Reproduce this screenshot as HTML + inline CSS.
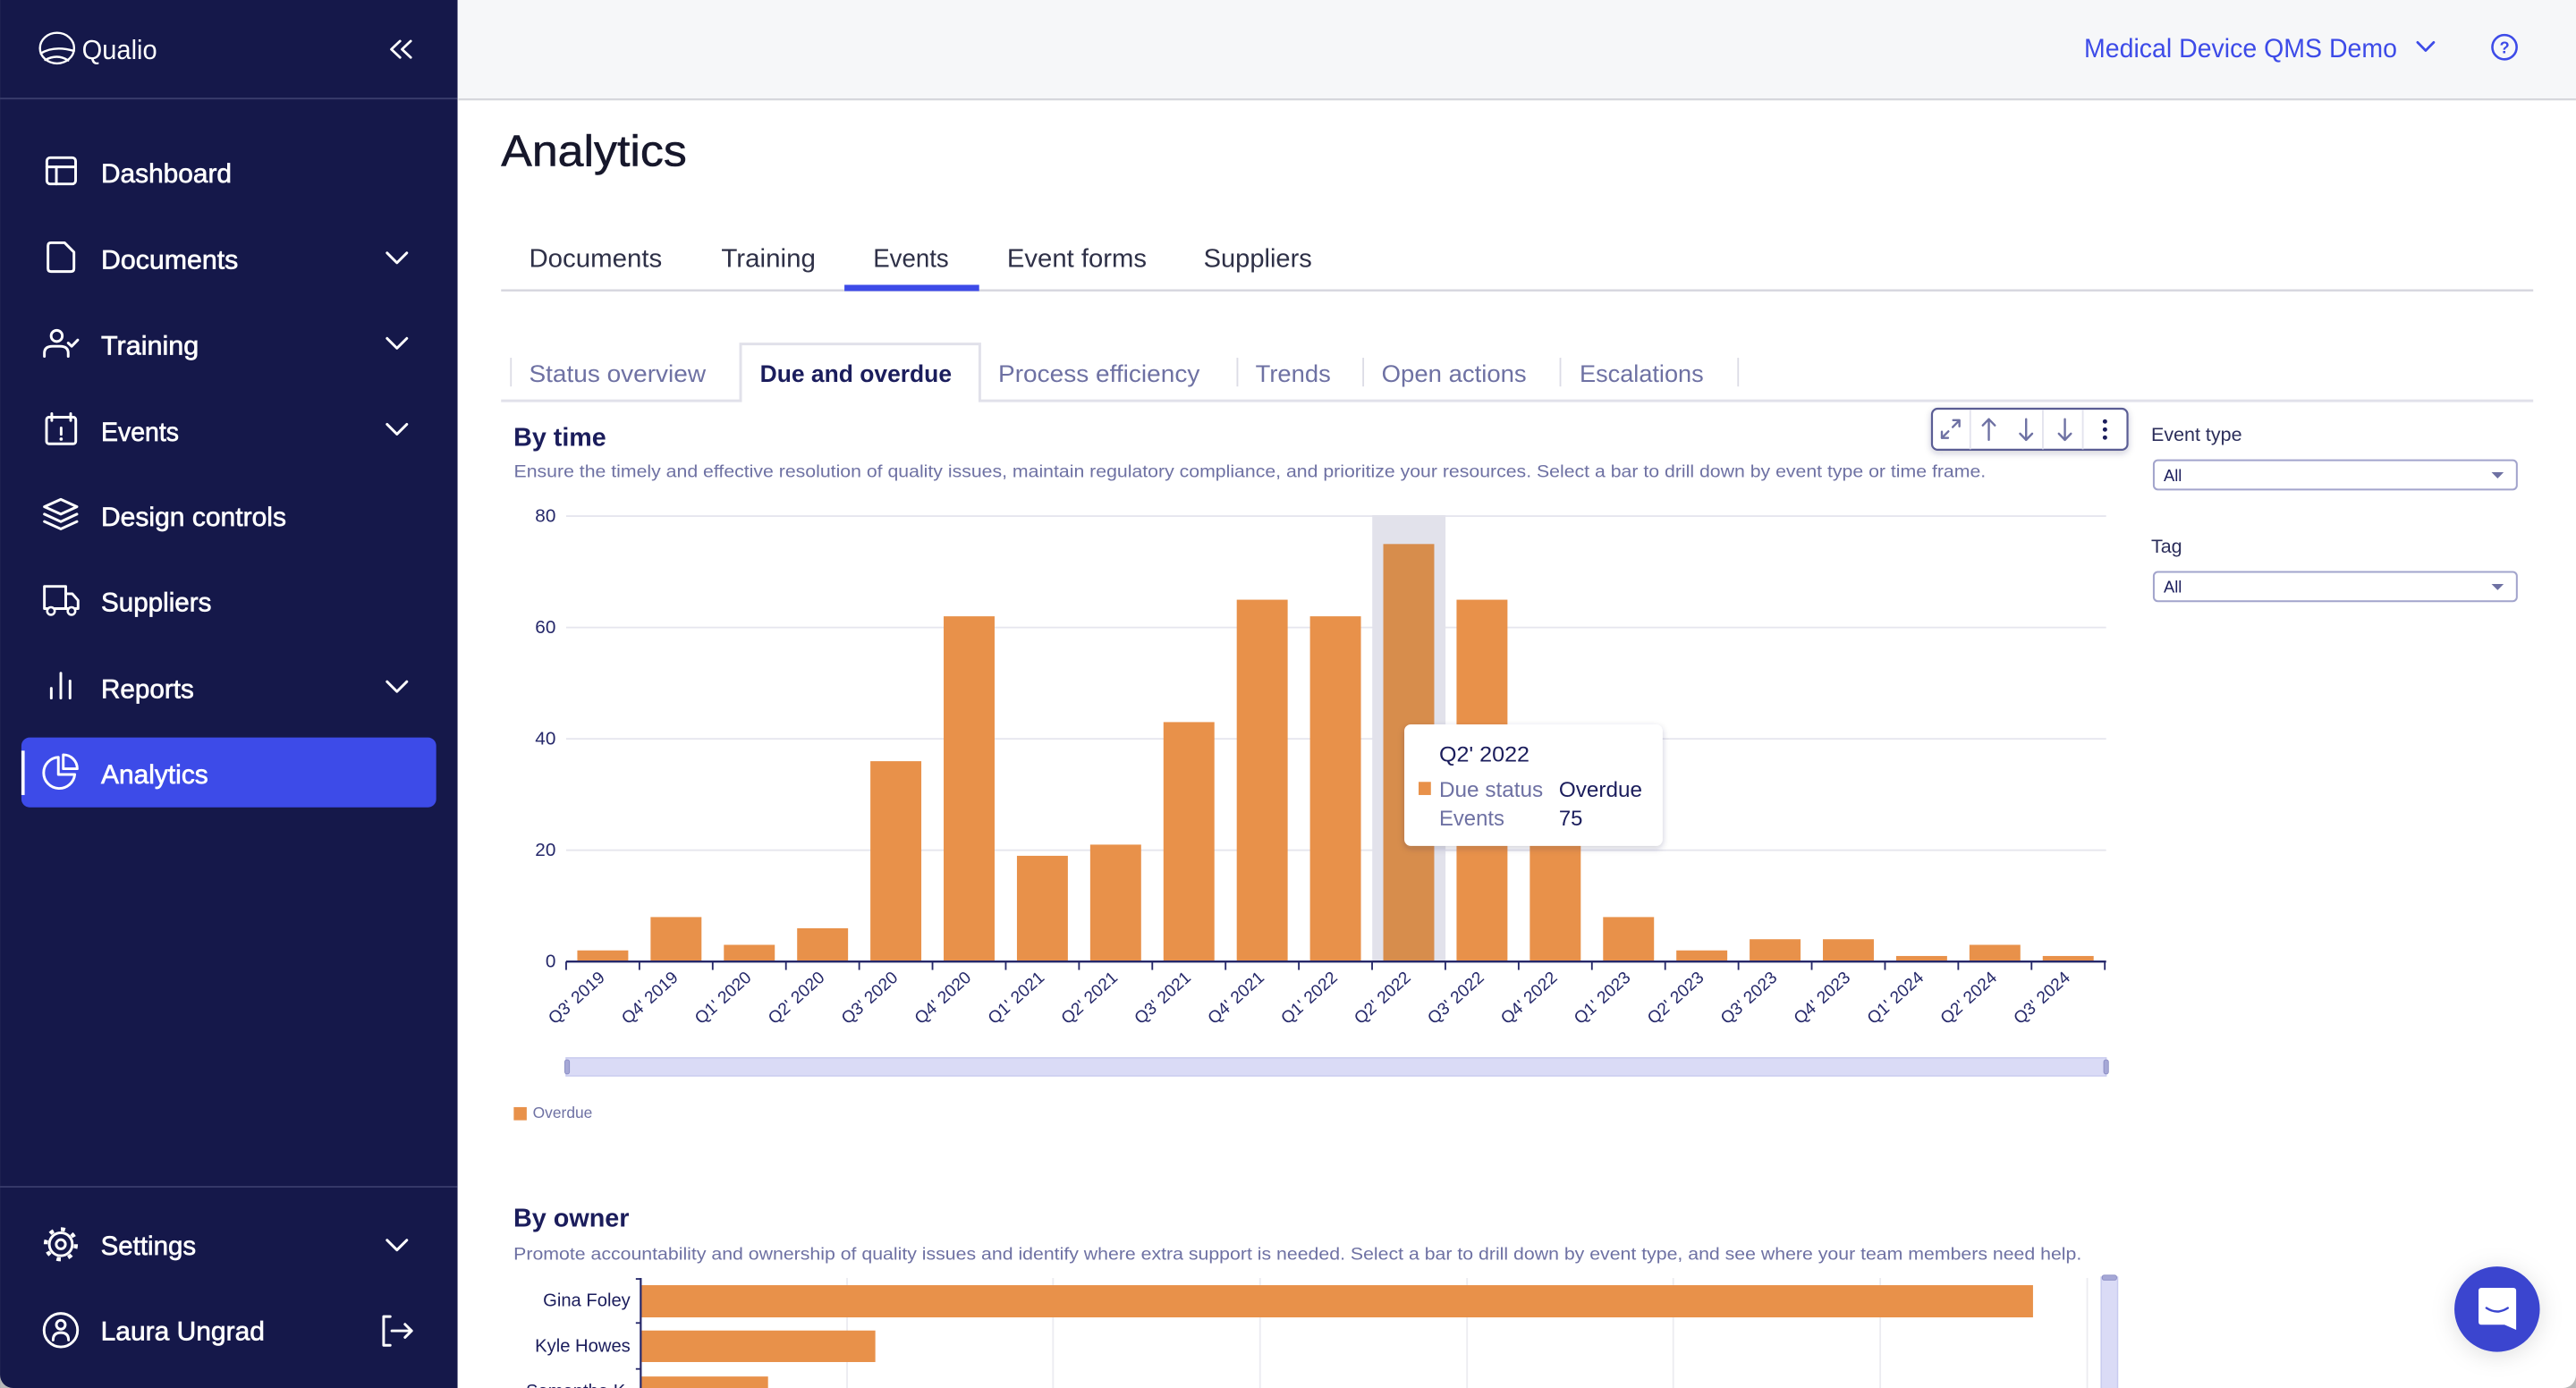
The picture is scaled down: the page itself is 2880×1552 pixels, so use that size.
<!DOCTYPE html>
<html><head><meta charset="utf-8"><style>html,body{margin:0;padding:0;width:2880px;height:1552px;overflow:hidden;background:#fff}svg{display:block}</style></head>
<body>
<svg width="2880" height="1552" viewBox="0 0 1568 845" xmlns="http://www.w3.org/2000/svg" font-family="'Liberation Sans', Arial, sans-serif">
<defs>
<filter id="sh" x="-20%" y="-30%" width="140%" height="170%"><feDropShadow dx="0" dy="1.5" stdDeviation="2" flood-color="#20224a" flood-opacity="0.22"/></filter>
<filter id="sh2" x="-60%" y="-60%" width="220%" height="220%"><feDropShadow dx="0" dy="2" stdDeviation="7" flood-color="#000" flood-opacity="0.13"/></filter>
</defs>
<rect width="1568" height="845" fill="#fff"/>
<!-- top bar -->
<rect x="279" y="0" width="1289" height="60" fill="#f6f7f9"/>
<line x1="279" y1="60.5" x2="1568" y2="60.5" stroke="#d6d7dc" stroke-width="1.2"/>
<text x="1268.6" y="34.8" font-size="16" fill="#3d4be8" textLength="190.5" lengthAdjust="spacingAndGlyphs">Medical Device QMS Demo</text>
<polyline points="1471.6,25.8 1476.5,30.8 1481.4,25.8" fill="none" stroke="#3d4be8" stroke-width="1.5" stroke-linecap="round" stroke-linejoin="round"/>
<circle cx="1524.5" cy="28.7" r="7.4" fill="none" stroke="#3d4be8" stroke-width="1.4"/>
<text x="1524.5" y="32.4" font-size="10" font-weight="bold" fill="#3d4be8" text-anchor="middle">?</text>

<!-- sidebar -->
<rect x="0" y="0" width="278.5" height="845" fill="#15184a"/>
<line x1="0" y1="60" x2="278.5" y2="60" stroke="#3a3d6c" stroke-width="1"/>
<line x1="0" y1="722.5" x2="278.5" y2="722.5" stroke="#3a3d6c" stroke-width="1"/>
<g fill="none" stroke="#fff" stroke-width="1.3" stroke-linecap="round">
<ellipse cx="34.7" cy="29.3" rx="10.4" ry="9.3"/>
<path d="M24.8,32.5 Q33,27.5 45,31"/>
<path d="M27.5,36.5 Q35,32.5 41.5,36.8"/>
</g>
<text x="49.9" y="36" font-size="16.5" fill="#fff" textLength="45.7" lengthAdjust="spacingAndGlyphs">Qualio</text>
<g fill="none" stroke="#fff" stroke-width="1.5" stroke-linecap="round" stroke-linejoin="round">
<polyline points="243.5,25 238.2,30 243.5,35"/>
<polyline points="250,25 244.7,30 250,35"/>
</g>
<!-- active item -->
<rect x="13" y="449" width="252.5" height="42.5" rx="5" fill="#3d4be8"/>
<rect x="13" y="457" width="2" height="27" fill="#fff"/>
<g fill="none" stroke="#fff" stroke-width="1.6" stroke-linecap="round" stroke-linejoin="round">
<!-- dashboard -->
<rect x="28.5" y="96" width="17.5" height="16" rx="2"/>
<line x1="28.5" y1="101.6" x2="46" y2="101.6"/><line x1="34.3" y1="101.6" x2="34.3" y2="112"/>
<!-- documents -->
<path d="M31,147.8 H39.3 L45,153.5 V163.5 Q45,165.3 43.2,165.3 H31 Q29.2,165.3 29.2,163.5 V149.6 Q29.2,147.8 31,147.8 Z"/>
<!-- training -->
<circle cx="34.5" cy="204.5" r="3.4"/>
<path d="M27,217 V215 Q27,210.8 32,210.8 H36.5 Q41.5,210.8 41.5,215 V217"/>
<polyline points="41.5,208.8 43.6,210.8 47.3,207"/>
<!-- events -->
<rect x="28.3" y="254" width="17.8" height="16.2" rx="1.5"/>
<line x1="31.5" y1="251.8" x2="31.5" y2="256"/><line x1="43" y1="251.8" x2="43" y2="256"/>
<line x1="37.2" y1="260.5" x2="37.2" y2="264.5"/>
<!-- design controls -->
<path d="M37,304 L46.8,308.5 L37,313 L27,308.5 Z"/>
<path d="M27,313 L37,317.6 L46.8,313"/>
<path d="M27,317.5 L37,322 L46.8,317.5"/>
<!-- suppliers -->
<path d="M27,357 H40 V370.5 H27 Z"/>
<path d="M40,361.5 H44 L47.5,365.5 V370.5 H40"/>
<!-- reports -->
<line x1="31.2" y1="419" x2="31.2" y2="425"/><line x1="37" y1="409.8" x2="37" y2="425"/><line x1="42.6" y1="414.5" x2="42.6" y2="425"/>
<!-- analytics -->
<path d="M35.5,461 A9.5,9.5 0 1 0 45.5,471.5 H35.5 Z" fill="none"/>
<path d="M38.5,459.5 V468 H47 A8.5,8.5 0 0 0 38.5,459.5 Z"/>
<!-- settings -->
<circle cx="37" cy="757.5" r="2.8"/>
<circle cx="37" cy="757.5" r="7"/>
<!-- user -->
<circle cx="37" cy="809.8" r="10.2"/>
<circle cx="37" cy="806.5" r="2.7"/>
<path d="M32.3,815.8 Q32.3,811.3 37,811.3 Q41.7,811.3 41.7,815.8"/>
<!-- logout -->
<path d="M237.5,801.5 H233.5 V819 H237.5"/>
<line x1="238.5" y1="810.2" x2="250.5" y2="810.2"/>
<polyline points="246.5,806.2 250.5,810.2 246.5,814.2"/>
<!-- chevrons -->
<polyline points="235.6,154 241.6,160 247.6,154"/>
<polyline points="235.6,206 241.6,212 247.6,206"/>
<polyline points="235.6,258.3 241.6,264.3 247.6,258.3"/>
<polyline points="235.6,415 241.6,421 247.6,415"/>
<polyline points="235.6,755 241.6,761 247.6,755"/>
</g>
<g fill="#fff">
<circle cx="37.2" cy="267.3" r="1"/>
<circle cx="31" cy="372" r="2.3" stroke="#fff" stroke-width="1.4" fill="#15184a"/>
<circle cx="43.5" cy="372" r="2.3" stroke="#fff" stroke-width="1.4" fill="#15184a"/>
</g>
<circle cx="37" cy="757.5" r="9.2" fill="none" stroke="#fff" stroke-width="2.4" stroke-dasharray="2.6 4.62"/>
<g font-size="16" fill="#fff" stroke="#fff" stroke-width="0.35">
<text x="61.5" y="111.2" textLength="79.5" lengthAdjust="spacingAndGlyphs">Dashboard</text>
<text x="61.5" y="163.6" textLength="83.5" lengthAdjust="spacingAndGlyphs">Documents</text>
<text x="61.5" y="216" textLength="59.5" lengthAdjust="spacingAndGlyphs">Training</text>
<text x="61.5" y="268.4" textLength="47.4" lengthAdjust="spacingAndGlyphs">Events</text>
<text x="61.5" y="320.2" textLength="112.7" lengthAdjust="spacingAndGlyphs">Design controls</text>
<text x="61.5" y="372.2" textLength="67.2" lengthAdjust="spacingAndGlyphs">Suppliers</text>
<text x="61.5" y="424.9" textLength="56.5" lengthAdjust="spacingAndGlyphs">Reports</text>
<text x="61.5" y="477" textLength="65.2" lengthAdjust="spacingAndGlyphs">Analytics</text>
<text x="61.3" y="764" textLength="58" lengthAdjust="spacingAndGlyphs">Settings</text>
<text x="61.3" y="816" textLength="99.8" lengthAdjust="spacingAndGlyphs">Laura Ungrad</text>
</g>

<!-- title -->
<text x="305" y="101" font-size="27" fill="#16172b" stroke="#16172b" stroke-width="0.3" textLength="113" lengthAdjust="spacingAndGlyphs">Analytics</text>
<!-- tabs -->
<g font-size="15.5" fill="#2e3047">
<text x="322" y="162.4" textLength="81" lengthAdjust="spacingAndGlyphs">Documents</text>
<text x="439" y="162.4" textLength="57.5" lengthAdjust="spacingAndGlyphs">Training</text>
<text x="531.5" y="162.4" textLength="46" lengthAdjust="spacingAndGlyphs">Events</text>
<text x="613" y="162.4" textLength="85" lengthAdjust="spacingAndGlyphs">Event forms</text>
<text x="732.6" y="162.4" textLength="66" lengthAdjust="spacingAndGlyphs">Suppliers</text>
</g>
<line x1="305" y1="176.8" x2="1542" y2="176.8" stroke="#d6d6de" stroke-width="1.3"/>
<rect x="514" y="173.4" width="82" height="3.8" fill="#3d4be8"/>
<!-- subtabs -->
<path d="M305,244 H450.8 V209.4 H596.4 V244 H1542" fill="none" stroke="#e1e1ea" stroke-width="1.6"/>
<g stroke="#dcdce6" stroke-width="1">
<line x1="311" y1="217.8" x2="311" y2="235.3"/><line x1="753.2" y1="217.8" x2="753.2" y2="235.3"/>
<line x1="829.8" y1="217.8" x2="829.8" y2="235.3"/><line x1="949.8" y1="217.8" x2="949.8" y2="235.3"/>
<line x1="1058" y1="217.8" x2="1058" y2="235.3"/>
</g>
<g font-size="14.5" fill="#6e71a3">
<text x="322" y="232.4" textLength="107.6" lengthAdjust="spacingAndGlyphs">Status overview</text>
<text x="607.6" y="232.4" textLength="122.7" lengthAdjust="spacingAndGlyphs">Process efficiency</text>
<text x="764.2" y="232.4" textLength="45.8" lengthAdjust="spacingAndGlyphs">Trends</text>
<text x="841" y="232.4" textLength="88.2" lengthAdjust="spacingAndGlyphs">Open actions</text>
<text x="961.5" y="232.4" textLength="75.5" lengthAdjust="spacingAndGlyphs">Escalations</text>
</g>
<text x="462.6" y="232.4" font-size="14.5" font-weight="bold" fill="#1b1d5c" textLength="116.7" lengthAdjust="spacingAndGlyphs">Due and overdue</text>

<!-- By time -->
<text x="312.6" y="271.3" font-size="15.5" font-weight="bold" fill="#1b1d5c" textLength="56.4" lengthAdjust="spacingAndGlyphs">By time</text>
<text x="312.8" y="290.6" font-size="10.5" fill="#6e71a3" textLength="896" lengthAdjust="spacingAndGlyphs">Ensure the timely and effective resolution of quality issues, maintain regulatory compliance, and prioritize your resources. Select a bar to drill down by event type or time frame.</text>

<!-- right panel -->
<text x="1309.4" y="268.5" font-size="11.7" fill="#2b2d5a" textLength="55.3" lengthAdjust="spacingAndGlyphs">Event type</text>
<rect x="1311" y="280.2" width="221" height="17.8" rx="2.5" fill="#fff" stroke="#a2a4cc" stroke-width="1.1"/>
<text x="1317" y="292.8" font-size="10" fill="#1b1d5c">All</text>
<polygon points="1516.6,287.5 1524,287.5 1520.3,291.3" fill="#6e71a3"/>
<text x="1309.4" y="336.5" font-size="11.7" fill="#2b2d5a">Tag</text>
<rect x="1311" y="348.2" width="221" height="17.8" rx="2.5" fill="#fff" stroke="#a2a4cc" stroke-width="1.1"/>
<text x="1317" y="360.8" font-size="10" fill="#1b1d5c">All</text>
<polygon points="1516.6,355.5 1524,355.5 1520.3,359.3" fill="#6e71a3"/>

<!-- chart gridlines -->
<g stroke="#e6e6ee" stroke-width="1">
<line x1="344.6" y1="314.2" x2="1282" y2="314.2"/>
<line x1="344.6" y1="382" x2="1282" y2="382"/>
<line x1="344.6" y1="449.8" x2="1282" y2="449.8"/>
<line x1="344.6" y1="517.6" x2="1282" y2="517.6"/>
</g>
<g font-size="11.3" fill="#25286a" text-anchor="end">
<text x="338.3" y="317.6">80</text>
<text x="338.3" y="385.4">60</text>
<text x="338.3" y="453.2">40</text>
<text x="338.3" y="521">20</text>
<text x="338.3" y="588.8">0</text>
</g>
<!-- highlight band -->
<rect x="835.3" y="313.6" width="44.6" height="271.8" fill="#e2e2eb"/>
<!-- bars -->
<g fill="#e8914a">
<rect x="351.4" y="578.6" width="31" height="6.8"/>
<rect x="396.0" y="558.3" width="31" height="27.1"/>
<rect x="440.6" y="575.2" width="31" height="10.2"/>
<rect x="485.2" y="565.1" width="31" height="20.3"/>
<rect x="529.8" y="463.4" width="31" height="122"/>
<rect x="574.4" y="375.2" width="31" height="210.2"/>
<rect x="619.0" y="521.0" width="31" height="64.4"/>
<rect x="663.6" y="514.2" width="31" height="71.2"/>
<rect x="708.2" y="439.6" width="31" height="145.8"/>
<rect x="752.8" y="365.1" width="31" height="220.3"/>
<rect x="797.4" y="375.2" width="31" height="210.2"/>
<rect x="886.6" y="365.1" width="31" height="220.3"/>
<rect x="931.2" y="466.8" width="31" height="118.6"/>
<rect x="975.8" y="558.3" width="31" height="27.1"/>
<rect x="1020.4" y="578.6" width="31" height="6.8"/>
<rect x="1065.0" y="571.8" width="31" height="13.6"/>
<rect x="1109.6" y="571.8" width="31" height="13.6"/>
<rect x="1154.2" y="582.0" width="31" height="3.4"/>
<rect x="1198.8" y="575.2" width="31" height="10.2"/>
<rect x="1243.4" y="582.0" width="31" height="3.4"/>
</g>
<rect x="842.0" y="331.2" width="31" height="254.2" fill="#d78d4c"/>
<!-- axis -->
<line x1="344.6" y1="585.4" x2="1282" y2="585.4" stroke="#25286a" stroke-width="1.3"/>
<g stroke="#25286a" stroke-width="1">
<line x1="344.6" y1="585.4" x2="344.6" y2="590.5"/><line x1="389.2" y1="585.4" x2="389.2" y2="590.5"/>
<line x1="433.8" y1="585.4" x2="433.8" y2="590.5"/><line x1="478.4" y1="585.4" x2="478.4" y2="590.5"/>
<line x1="523.0" y1="585.4" x2="523.0" y2="590.5"/><line x1="567.6" y1="585.4" x2="567.6" y2="590.5"/>
<line x1="612.2" y1="585.4" x2="612.2" y2="590.5"/><line x1="656.8" y1="585.4" x2="656.8" y2="590.5"/>
<line x1="701.4" y1="585.4" x2="701.4" y2="590.5"/><line x1="746.0" y1="585.4" x2="746.0" y2="590.5"/>
<line x1="790.6" y1="585.4" x2="790.6" y2="590.5"/><line x1="835.2" y1="585.4" x2="835.2" y2="590.5"/>
<line x1="879.8" y1="585.4" x2="879.8" y2="590.5"/><line x1="924.4" y1="585.4" x2="924.4" y2="590.5"/>
<line x1="969.0" y1="585.4" x2="969.0" y2="590.5"/><line x1="1013.6" y1="585.4" x2="1013.6" y2="590.5"/>
<line x1="1058.2" y1="585.4" x2="1058.2" y2="590.5"/><line x1="1102.8" y1="585.4" x2="1102.8" y2="590.5"/>
<line x1="1147.4" y1="585.4" x2="1147.4" y2="590.5"/><line x1="1192.0" y1="585.4" x2="1192.0" y2="590.5"/>
<line x1="1236.6" y1="585.4" x2="1236.6" y2="590.5"/><line x1="1281.2" y1="585.4" x2="1281.2" y2="590.5"/>
</g>
<g font-size="10.4" fill="#25286a" text-anchor="end">
<text transform="translate(368.7,596) rotate(-42)">Q3' 2019</text>
<text transform="translate(413.3,596) rotate(-42)">Q4' 2019</text>
<text transform="translate(457.9,596) rotate(-42)">Q1' 2020</text>
<text transform="translate(502.5,596) rotate(-42)">Q2' 2020</text>
<text transform="translate(547.1,596) rotate(-42)">Q3' 2020</text>
<text transform="translate(591.7,596) rotate(-42)">Q4' 2020</text>
<text transform="translate(636.3,596) rotate(-42)">Q1' 2021</text>
<text transform="translate(680.9,596) rotate(-42)">Q2' 2021</text>
<text transform="translate(725.5,596) rotate(-42)">Q3' 2021</text>
<text transform="translate(770.1,596) rotate(-42)">Q4' 2021</text>
<text transform="translate(814.7,596) rotate(-42)">Q1' 2022</text>
<text transform="translate(859.3,596) rotate(-42)">Q2' 2022</text>
<text transform="translate(903.9,596) rotate(-42)">Q3' 2022</text>
<text transform="translate(948.5,596) rotate(-42)">Q4' 2022</text>
<text transform="translate(993.1,596) rotate(-42)">Q1' 2023</text>
<text transform="translate(1037.7,596) rotate(-42)">Q2' 2023</text>
<text transform="translate(1082.3,596) rotate(-42)">Q3' 2023</text>
<text transform="translate(1126.9,596) rotate(-42)">Q4' 2023</text>
<text transform="translate(1171.5,596) rotate(-42)">Q1' 2024</text>
<text transform="translate(1216.1,596) rotate(-42)">Q2' 2024</text>
<text transform="translate(1260.7,596) rotate(-42)">Q3' 2024</text>
</g>
<!-- slider -->
<rect x="344.6" y="644" width="937.4" height="11" fill="#dadbf6" stroke="#c9cbef" stroke-width="0.8"/>
<rect x="343.8" y="645.2" width="2.8" height="8.6" rx="1.2" fill="#a6a8d6" stroke="#8a8dc4" stroke-width="0.5"/>
<rect x="1280.6" y="645.2" width="2.8" height="8.6" rx="1.2" fill="#a6a8d6" stroke="#8a8dc4" stroke-width="0.5"/>
<!-- legend -->
<rect x="312.7" y="674" width="7.9" height="8" fill="#e8914a"/>
<text x="324.3" y="680.6" font-size="9.5" fill="#6e71a3" textLength="36.3" lengthAdjust="spacingAndGlyphs">Overdue</text>

<!-- tooltip -->
<rect x="854.8" y="441" width="157.2" height="74" rx="4" fill="#fff" filter="url(#sh)"/>
<text x="876" y="463.7" font-size="13.3" fill="#1b1d5c" textLength="55" lengthAdjust="spacingAndGlyphs">Q2' 2022</text>
<rect x="863.5" y="476" width="7.5" height="8" fill="#e8914a"/>
<text x="876" y="485.2" font-size="13" fill="#6e71a3" textLength="63.3" lengthAdjust="spacingAndGlyphs">Due status</text>
<text x="948.9" y="485.2" font-size="13" fill="#1b1d5c" textLength="50.7" lengthAdjust="spacingAndGlyphs">Overdue</text>
<text x="876" y="502.5" font-size="13" fill="#6e71a3">Events</text>
<text x="948.9" y="502.5" font-size="13" fill="#1b1d5c">75</text>

<!-- toolbar -->
<rect x="1176" y="248.8" width="119" height="25" rx="3.5" fill="#fff" stroke="#5a5d94" stroke-width="1.2" filter="url(#sh)"/>
<g stroke="#e3e3ee" stroke-width="1">
<line x1="1199.3" y1="249.5" x2="1199.3" y2="273.5"/><line x1="1243.5" y1="249.5" x2="1243.5" y2="273.5"/><line x1="1267.8" y1="249.5" x2="1267.8" y2="273.5"/>
</g>
<g fill="none" stroke="#6e71a3" stroke-width="1.3" stroke-linecap="round" stroke-linejoin="round">
<line x1="1188.6" y1="260" x2="1192.6" y2="256"/><polyline points="1188.9,255.8 1192.7,255.8 1192.7,259.6"/>
<line x1="1186" y1="262.6" x2="1182" y2="266.6"/><polyline points="1182,262.8 1182,266.6 1185.8,266.6"/>
<line x1="1210.6" y1="255.2" x2="1210.6" y2="267.8"/><polyline points="1206.9,259 1210.6,255.2 1214.3,259"/>
<line x1="1233.3" y1="255.2" x2="1233.3" y2="267.8"/><polyline points="1229.6,264 1233.3,267.8 1237,264"/>
<line x1="1256.9" y1="255.2" x2="1256.9" y2="267.8"/><polyline points="1253.2,264 1256.9,267.8 1260.6,264"/>
</g>
<g fill="#1b1d5c"><circle cx="1281.3" cy="256.6" r="1.35"/><circle cx="1281.3" cy="261.5" r="1.35"/><circle cx="1281.3" cy="266.4" r="1.35"/></g>

<!-- By owner -->
<text x="312.5" y="746.8" font-size="15.5" font-weight="bold" fill="#1b1d5c" textLength="70.5" lengthAdjust="spacingAndGlyphs">By owner</text>
<text x="312.6" y="767" font-size="10.5" fill="#6e71a3" textLength="954.5" lengthAdjust="spacingAndGlyphs">Promote accountability and ownership of quality issues and identify where extra support is needed. Select a bar to drill down by event type, and see where your team members need help.</text>
<g stroke="#ececf1" stroke-width="1">
<line x1="515.6" y1="778" x2="515.6" y2="845"/><line x1="641" y1="778" x2="641" y2="845"/>
<line x1="767" y1="778" x2="767" y2="845"/><line x1="893" y1="778" x2="893" y2="845"/>
<line x1="1018.5" y1="778" x2="1018.5" y2="845"/><line x1="1144.5" y1="778" x2="1144.5" y2="845"/>
<line x1="1270.5" y1="778" x2="1270.5" y2="845"/>
</g>
<g fill="#e8914a">
<rect x="390.5" y="782.4" width="847" height="19.6"/>
<rect x="390.5" y="810" width="142.3" height="19.2"/>
<rect x="390.5" y="838" width="77" height="10"/>
</g>
<line x1="390" y1="778" x2="390" y2="845" stroke="#25286a" stroke-width="1.2"/>
<g stroke="#25286a" stroke-width="1"><line x1="387" y1="778.6" x2="390" y2="778.6"/><line x1="387" y1="805.4" x2="390" y2="805.4"/><line x1="387" y1="833.4" x2="390" y2="833.4"/></g>
<g font-size="11" fill="#1b1d5c" text-anchor="end">
<text x="383.7" y="795.3">Gina Foley</text>
<text x="383.7" y="823">Kyle Howes</text>
<text x="383.7" y="850.5">Samantha K.</text>
</g>
<rect x="1279" y="777.5" width="10" height="70" fill="#dadbf6" stroke="#c9cbef" stroke-width="0.8"/>
<rect x="1279.6" y="776.3" width="8.8" height="3" rx="1.2" fill="#a6a8d6" stroke="#8a8dc4" stroke-width="0.5"/>

<!-- chat bubble -->
<circle cx="1520" cy="797" r="26" fill="#3a45cf" filter="url(#sh2)"/>
<path d="M1510.5,784 H1529.8 Q1531.6,784 1531.6,785.8 V809.6 L1524.5,806.5 H1510.5 Q1508.7,806.5 1508.7,804.7 V785.8 Q1508.7,784 1510.5,784 Z" fill="#fff"/>
<path d="M1513.5,796.3 Q1520,800.6 1526.5,796.3" fill="none" stroke="#3a45cf" stroke-width="1.3" stroke-linecap="round"/>

<!-- window corners -->
<path d="M0,837 V845 H8 A8,8 0 0 1 0,837 Z" fill="#b8b8b8"/>
<path d="M1568,837 V845 H1560 A8,8 0 0 0 1568,837 Z" fill="#b8b8b8"/>
</svg>
</body></html>
